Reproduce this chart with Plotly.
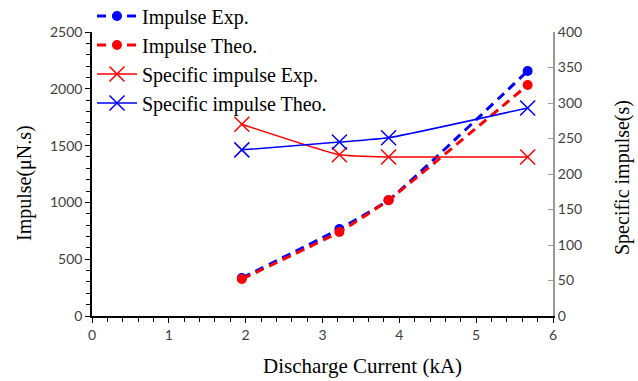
import plotly.graph_objects as go

current = [1.95, 3.22, 3.86, 5.67]
impulse_exp = [334, 766, 1020, 2157]
impulse_theo = [325, 740, 1020, 2033]
isp_exp = [270, 227, 224, 224]
isp_theo = [234, 245, 251, 293]

serif = "Liberation Serif, Times New Roman, serif"

fig = go.Figure()
fig.add_trace(go.Scatter(x=current, y=impulse_exp, name="Impulse Exp.", mode="lines+markers",
                         line=dict(color="#0000ff", width=3, dash="9px,6px", shape="spline", smoothing=0.4),
                         marker=dict(symbol="circle", size=10, color="#0000ff")))
fig.add_trace(go.Scatter(x=current, y=impulse_theo, name="Impulse Theo.", mode="lines+markers",
                         line=dict(color="#ff0000", width=3, dash="9px,6px", shape="spline", smoothing=0.4),
                         marker=dict(symbol="circle", size=10, color="#ff0000")))
fig.add_trace(go.Scatter(x=current, y=isp_exp, name="Specific impulse Exp.", mode="lines+markers", yaxis="y2",
                         line=dict(color="#ff0000", width=1.5, shape="spline", smoothing=0.4),
                         marker=dict(symbol="x-thin", size=15, color="#ff0000", line=dict(color="#ff0000", width=1.5))))
fig.add_trace(go.Scatter(x=current, y=isp_theo, name="Specific impulse Theo.", mode="lines+markers", yaxis="y2",
                         line=dict(color="#0000ff", width=1.5, shape="spline", smoothing=0.4),
                         marker=dict(symbol="x-thin", size=15, color="#0000ff", line=dict(color="#0000ff", width=1.5))))

tickfont = dict(family="Lato, Open Sans, sans-serif", size=14, color="#404040")
fig.update_layout(
    width=638, height=381,
    margin=dict(l=92, r=85, t=32, b=65, autoexpand=False),
    plot_bgcolor="white", paper_bgcolor="white",
    showlegend=True,
    legend=dict(x=0.0, y=1.125, xanchor="left", yanchor="top", bgcolor="rgba(0,0,0,0)",
                font=dict(family=serif, size=20, color="#000"),
                tracegroupgap=0, itemwidth=40),
    xaxis=dict(range=[0, 6], dtick=1, showline=True, linecolor="#000", linewidth=1.5,
               ticks="outside", ticklen=5, tickcolor="#000", tickfont=tickfont,
               minor=dict(dtick=0.2, ticks="outside", ticklen=4, tickcolor="#000"),
               showgrid=False, zeroline=False),
    yaxis=dict(range=[0, 2500], dtick=500, showline=True, linecolor="#000", linewidth=1.5,
               ticks="outside", ticklen=5, tickcolor="#000", tickfont=tickfont,
               minor=dict(dtick=100, ticks="outside", ticklen=4, tickcolor="#000"),
               showgrid=False, zeroline=False),
    yaxis2=dict(range=[0, 400], dtick=50, overlaying="y", side="right", showline=True,
                linecolor="#999999", linewidth=2, ticks="inside", ticklen=5, tickcolor="#999999",
                tickfont=tickfont, showgrid=False, zeroline=False),
)
# axis titles
fig.add_annotation(text="Discharge Current (kA)", xref="paper", yref="paper", x=(362 - 92) / 461, y=0,
                   xanchor="center", yanchor="top", yshift=-36, showarrow=False,
                   font=dict(family=serif, size=21, color="#000"))
fig.add_annotation(text="Impulse(μN.s)", xref="paper", yref="paper", x=0, y=(316 - 183) / 284,
                   xanchor="center", yanchor="middle", xshift=-68, textangle=-90, showarrow=False,
                   font=dict(family=serif, size=20, color="#000"))
fig.add_annotation(text="Specific impulse(s)", xref="paper", yref="paper", x=1, y=(316 - 178) / 284,
                   xanchor="center", yanchor="middle", xshift=69, textangle=-90, showarrow=False,
                   font=dict(family=serif, size=20, color="#000"))
fig.write_html("out.html")
